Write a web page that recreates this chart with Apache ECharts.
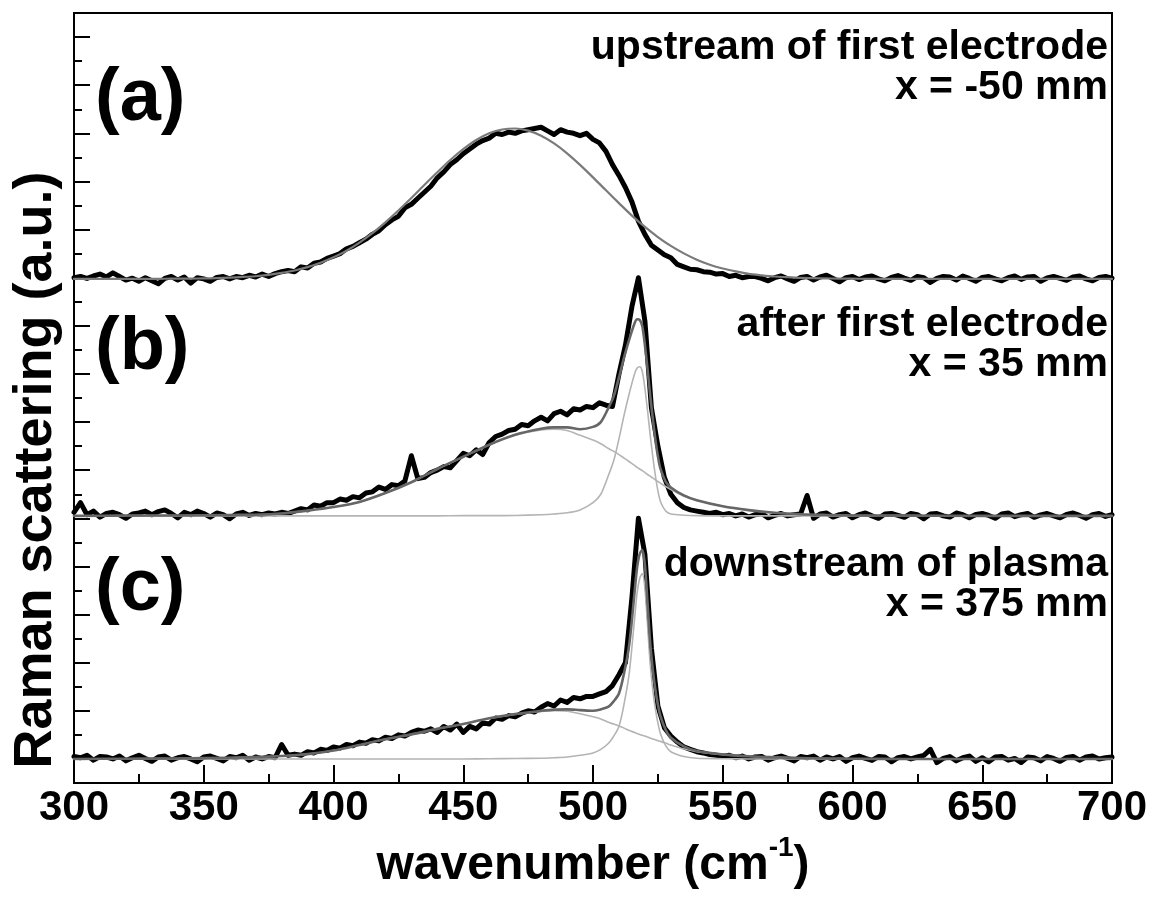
<!DOCTYPE html>
<html><head><meta charset="utf-8">
<script src="https://cdn.jsdelivr.net/npm/echarts@6/dist/echarts.min.js"></script>
<style>html,body{margin:0;padding:0;background:#fff}#chart{width:1154px;height:899px}</style>
</head><body><div id="chart"></div>
<script>
// ---- data (intensities in arbitrary units, relative to each spectrum's baseline) ----
const wnStart = 300, wnStep = 2.5;          // measured spectra sampling
const fitAStart = 300, fitAStep = 5;        // fit (a) sampling
const xTickValues = [300, 350, 400, 450, 500, 550, 600, 650, 700];
const panelLabels = ['(a)', '(b)', '(c)'];
const panelTitles = [['upstream of first electrode', 'x = -50 mm'], ['after first electrode', 'x = 35 mm'], ['downstream of plasma', 'x = 375 mm']];
const baselineA = 20.95, baselineB = 11.1, baselineC = 1.0;

const spectrumA = [
  0.05,0.10,0.02,0.12,0.20,0.08,0.25,0.10,-0.05,0.03,
  -0.10,0.05,-0.08,-0.20,0.02,0.10,-0.05,0.08,-0.18,0.05,
  0.00,-0.10,0.06,0.10,0.00,0.10,0.05,0.15,0.08,0.20,
  0.10,0.22,0.30,0.35,0.30,0.50,0.45,0.65,0.70,0.85,
  0.95,1.05,1.25,1.35,1.50,1.65,1.85,2.00,2.25,2.45,
  2.60,2.95,3.10,3.35,3.60,3.85,4.20,4.45,4.75,4.95,
  5.20,5.40,5.60,5.75,5.85,6.05,6.00,6.10,6.05,6.15,
  6.20,6.25,6.30,6.15,6.00,6.20,6.10,6.05,5.95,6.05,
  5.80,5.65,5.30,4.75,4.30,3.80,3.20,2.40,1.85,1.40,
  1.20,1.00,0.88,0.60,0.50,0.40,0.38,0.30,0.28,0.20,
  0.22,0.10,0.15,0.05,0.10,0.10,0.02,-0.08,0.05,0.12,
  0.00,-0.10,0.06,0.10,-0.05,0.08,0.15,0.02,-0.12,0.05,
  0.10,-0.03,0.08,0.12,0.00,-0.08,0.06,0.14,0.03,-0.06,
  0.10,0.05,-0.15,0.02,0.10,0.08,-0.05,0.12,0.02,-0.10,
  0.06,0.10,0.00,-0.08,0.05,0.12,-0.02,0.08,0.10,-0.10,
  0.04,0.10,0.02,-0.06,0.08,0.12,0.00,-0.08,0.06,0.10,
  0.03
];
const spectrumB = [
  0.15,0.55,0.05,0.20,-0.05,0.10,0.15,0.05,-0.10,0.08,
  0.12,0.20,0.05,0.18,0.25,0.10,-0.08,0.15,0.05,0.20,
  0.10,-0.05,0.12,0.05,-0.12,0.08,0.15,0.02,0.10,0.05,
  0.12,0.08,0.15,0.10,0.20,0.30,0.25,0.45,0.40,0.55,
  0.55,0.70,0.65,0.80,0.75,0.95,1.00,1.20,1.10,1.30,
  1.25,1.45,2.50,1.55,1.60,1.80,1.90,2.05,2.00,2.30,
  2.60,2.50,2.75,2.55,3.05,3.30,3.40,3.55,3.60,3.80,
  3.75,3.95,4.10,3.95,4.25,4.35,4.20,4.45,4.40,4.55,
  4.50,4.70,4.60,4.55,5.90,7.10,8.70,9.90,8.10,4.50,
  2.90,1.60,0.90,0.55,0.35,0.25,0.20,0.15,0.10,0.15,
  0.05,0.10,0.00,0.08,-0.05,0.05,0.10,-0.08,0.02,0.10,
  0.00,0.05,0.08,0.85,-0.10,0.08,0.12,-0.05,0.05,0.10,
  -0.08,0.05,0.12,0.00,-0.10,0.08,0.10,0.02,-0.06,0.10,
  0.05,-0.12,0.08,0.10,0.00,-0.05,0.12,0.05,-0.08,0.06,
  0.10,0.02,-0.10,0.08,0.12,-0.03,0.05,0.10,-0.06,0.04,
  0.10,0.00,-0.08,0.06,0.12,0.02,-0.10,0.05,0.10,-0.02,
  0.05
];
const spectrumC = [
  0.10,0.05,0.15,-0.05,0.10,0.08,0.00,0.12,-0.08,0.05,
  0.15,0.02,-0.10,0.08,0.12,-0.05,0.05,0.10,0.00,-0.12,
  0.08,0.12,0.02,-0.08,0.10,0.05,0.15,-0.05,0.08,0.00,
  0.10,0.05,0.60,0.15,0.20,0.15,0.30,0.25,0.40,0.35,
  0.50,0.45,0.60,0.55,0.70,0.65,0.80,0.75,0.90,0.85,
  1.00,0.95,1.10,1.20,1.15,1.25,1.10,1.35,1.20,1.45,
  1.10,1.35,1.25,1.50,1.45,1.70,1.65,1.80,1.75,1.90,
  2.00,1.95,2.15,2.30,2.20,2.45,2.35,2.55,2.50,2.60,
  2.60,2.70,2.80,3.05,3.50,4.00,6.70,10.00,8.50,4.60,
  2.20,1.30,0.95,0.70,0.50,0.40,0.30,0.25,0.18,0.15,
  0.10,0.15,0.05,0.12,0.00,0.08,0.10,-0.05,0.05,0.12,
  0.02,-0.08,0.10,0.05,0.12,-0.05,0.08,0.00,0.10,-0.10,
  0.05,0.12,0.02,-0.06,0.10,0.08,-0.12,0.05,0.10,0.00,
  0.08,0.15,0.40,-0.15,0.02,0.10,-0.08,0.05,0.12,-0.10,
  0.05,-0.12,0.08,0.10,-0.05,0.02,-0.15,0.08,0.05,-0.08,
  0.10,0.02,-0.10,0.06,0.10,-0.05,0.08,0.12,0.00,0.05,
  0.08
];
const fitA = [
  0,0,0,0,0,0,0,0.005,0.01,0.015,
  0.02,0.03,0.05,0.08,0.11,0.17,0.25,0.35,0.49,0.67,
  0.90,1.17,1.51,1.90,2.35,2.84,3.36,3.90,4.43,4.94,
  5.39,5.77,6.05,6.21,6.25,6.16,5.95,5.63,5.22,4.74,
  4.22,3.68,3.15,2.63,2.16,1.74,1.37,1.06,0.80,0.59,
  0.43,0.31,0.21,0.15,0.10,0.07,0.04,0.03,0.02,0.01,
  0.01,0,0,0,0,0,0,0,0,0,
  0,0,0,0,0,0,0,0,0,0,
  0
];
const compX = [300,320,340,360, 370,380,390,400,410,420,430,440,450,460,470,480, 485,490,495,500, 503,506,508,510,
  512,514,516,517,518,519,520, 521,522,523,524,525,526, 528,530,535,540, 550,560,570,580,590,600, 620,650,700];
const fitTotalB = [0,0.01,0.02,0.04, 0.05,0.10,0.22,0.37,0.58,0.95,1.40,1.95,2.46,2.96,3.37,3.62, 3.68,3.68,3.60,3.70, 3.90,4.50,4.98,5.75,
  6.60,7.35,8.00,8.17,8.15,7.88,7.10, 6.12,5.05,4.08,3.20,2.48,1.96, 1.42,1.18,0.85,0.65, 0.40,0.24,0.13,0.07,0.04,0.02, 0.01,0,0];
const fitNarrowB = [0,0,0,0, 0,0,0,0,0,0,0,0,0.01,0.01,0.02,0.05, 0.08,0.13,0.25,0.55, 0.90,1.70,2.30,3.20,
  4.20,5.10,5.90,6.15,6.20,6.00,5.30, 4.40,3.40,2.50,1.70,1.05,0.60, 0.20,0.08,0.03,0.01, 0,0,0,0,0,0, 0,0,0];
const fitBroadB = [0,0.01,0.02,0.04, 0.05,0.10,0.22,0.37,0.58,0.95,1.40,1.95,2.45,2.95,3.35,3.57, 3.60,3.55,3.35,3.15, 3.00,2.80,2.68,2.55,
  2.40,2.25,2.10,2.02,1.95,1.88,1.80, 1.72,1.65,1.58,1.50,1.43,1.36, 1.22,1.10,0.82,0.64, 0.40,0.24,0.13,0.07,0.04,0.02, 0.01,0,0];
const fitTotalC = [0,0.01,0.02,0.05, 0.08,0.12,0.20,0.35,0.58,0.82,1.02,1.25,1.45,1.69,1.87,2.00, 2.05,2.06,2.03,2.00, 2.06,2.17,2.40,2.72,
  3.58,4.78,6.90,7.96,8.52,8.68,8.05, 6.51,4.87,3.73,2.90,2.26,1.78, 1.21,0.88,0.52,0.33, 0.19,0.11,0.07,0.04,0.02,0.01, 0,0,0];
const fitNarrowC = [0,0,0,0, 0,0,0,0,0,0,0,0,0,0.01,0.02,0.03, 0.05,0.08,0.15,0.25, 0.40,0.65,0.95,1.35,
  2.30,3.60,5.80,6.90,7.50,7.70,7.10, 5.60,4.00,2.90,2.10,1.50,1.05, 0.55,0.30,0.10,0.03, 0.01,0,0,0,0,0, 0,0,0];
const fitBroadC = [0,0.01,0.02,0.05, 0.08,0.12,0.20,0.35,0.58,0.82,1.02,1.25,1.45,1.68,1.85,1.97, 2.00,1.98,1.88,1.75, 1.66,1.52,1.45,1.37,
  1.28,1.18,1.10,1.06,1.02,0.98,0.95, 0.91,0.87,0.83,0.80,0.76,0.73, 0.66,0.58,0.42,0.30, 0.18,0.11,0.07,0.04,0.02,0.01, 0,0,0];

// ---- build ----
const FONT = '"Liberation Sans", Arial, Helvetica, sans-serif';
const uniform = (arr, start, step, off) => arr.map((v, i) => [start + i * step, v + off]);
const onGrid = (xs, arr, off) => xs.map((x, i) => [x, arr[i] + off]);

function line(data, color, width, z, smooth) {
  return { type: 'line', data, showSymbol: false, symbol: 'none', smooth: smooth || false, z,
    lineStyle: { color, width, join: 'round', cap: 'round' }, silent: true };
}
const BLACK_W = 5;
const series = [
  line(uniform(spectrumA, wnStart, wnStep, baselineA), '#000', BLACK_W, 2),
  line(uniform(spectrumB, wnStart, wnStep, baselineB), '#000', BLACK_W, 2),
  line(uniform(spectrumC, wnStart, wnStep, baselineC), '#000', BLACK_W, 2),
  line(uniform(fitA, fitAStart, fitAStep, baselineA), '#7a7a7a', 2.2, 4, 0.3),
  line(onGrid(compX, fitNarrowB, baselineB), '#b4b4b4', 1.6, 3, 0.3),
  line(onGrid(compX, fitBroadB, baselineB), '#b4b4b4', 1.6, 3, 0.3),
  line(onGrid(compX, fitTotalB, baselineB), '#666', 2.6, 4, 0.3),
  line(onGrid(compX, fitNarrowC, baselineC), '#b4b4b4', 1.6, 3, 0.3),
  line(onGrid(compX, fitBroadC, baselineC), '#b4b4b4', 1.6, 3, 0.3),
  line(onGrid(compX, fitTotalC, baselineC), '#666', 2.6, 4, 0.3)
];

const majorY = [], minorY = [];
for (let v = 1; v <= 31; v += 2) majorY.push(v);
for (let v = 2; v <= 30; v += 2) minorY.push(v);

const labelY = [100, 349, 590];
const titleY = [[48, 88], [325, 365], [565, 605]];
const graphics = [];
panelLabels.forEach((t, i) => graphics.push({ type: 'text', x: 95, y: labelY[i], z: 10,
  style: { text: t, font: 'bold 74px ' + FONT, fill: '#000', textAlign: 'left', textVerticalAlign: 'middle' } }));
panelTitles.forEach((lines, i) => lines.forEach((t, j) => graphics.push({ type: 'text', x: 1108, y: titleY[i][j], z: 10,
  style: { text: t, font: 'bold 41px ' + FONT, fill: '#000', textAlign: 'right', textVerticalAlign: 'middle' } })));
graphics.push({ type: 'text', x: 36, y: 470, rotation: Math.PI / 2, z: 10,
  style: { text: 'Raman scattering (a.u.)', font: 'bold 54px ' + FONT, fill: '#000', textAlign: 'center', textVerticalAlign: 'middle' } });

const option = {
  animation: false,
  backgroundColor: '#fff',
  grid: { left: 74, right: 42, top: 13, bottom: 116, show: true, borderColor: '#000', borderWidth: 2, backgroundColor: 'transparent' },
  xAxis: {
    type: 'value', min: 300, max: 700, interval: 50,
    axisLine: { show: true, lineStyle: { color: '#000', width: 2 } },
    axisTick: { show: true, inside: true, length: 18, lineStyle: { color: '#000', width: 2 } },
    minorTick: { show: true, splitNumber: 2, length: 9, lineStyle: { color: '#000', width: 2 } },
    splitLine: { show: false }, minorSplitLine: { show: false },
    axisLabel: { fontSize: 42, fontWeight: 'bold', fontFamily: FONT, color: '#000', margin: 4,
      formatter: v => xTickValues.includes(v) ? String(v) : '' },
    name: '{t|wavenumber (cm}{s|-1}{t|)}', nameLocation: 'middle', nameGap: 41,
    nameTextStyle: { rich: {
      t: { fontSize: 48, fontWeight: 'bold', fontFamily: FONT, color: '#000', lineHeight: 56, verticalAlign: 'bottom' },
      s: { fontSize: 28, fontWeight: 'bold', fontFamily: FONT, color: '#000', lineHeight: 22, verticalAlign: 'top' } } }
  },
  yAxis: [
    { type: 'value', min: 0, max: 32, position: 'left',
      axisLine: { show: true, lineStyle: { color: '#000', width: 2 } },
      axisTick: { show: true, inside: true, length: 16, customValues: majorY, lineStyle: { color: '#000', width: 2 } },
      axisLabel: { show: false }, splitLine: { show: false } },
    { type: 'value', min: 0, max: 32, position: 'left', offset: 0,
      axisLine: { show: false },
      axisTick: { show: true, inside: true, length: 8, customValues: minorY, lineStyle: { color: '#000', width: 2 } },
      axisLabel: { show: false }, splitLine: { show: false } }
  ],
  series,
  graphic: graphics
};
const chart = echarts.init(document.getElementById('chart'));
chart.setOption(option);
</script></body></html>
